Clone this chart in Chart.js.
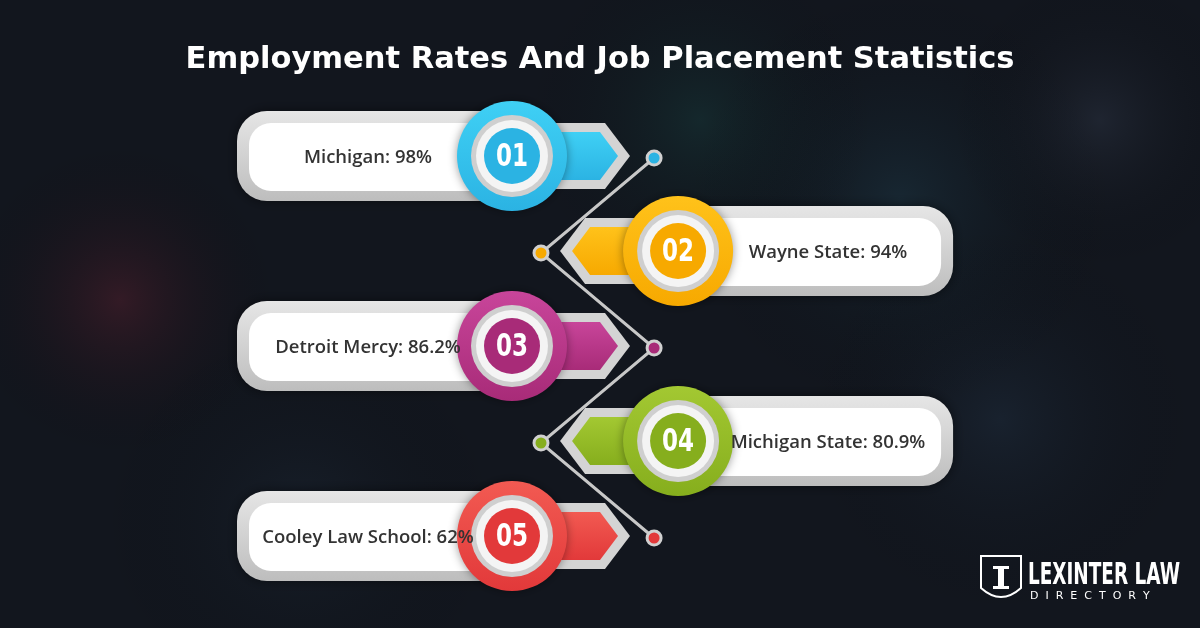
<!DOCTYPE html>
<html><head><meta charset="utf-8">
<script src="https://cdn.jsdelivr.net/npm/chart.js@4"></script>
<style>html,body{margin:0;padding:0;background:#12161e}#c{display:block}</style>
</head><body>
<canvas id="c" width="1200" height="628"></canvas>
<script>
const title = "Employment Rates And Job Placement Statistics";
const schools = ["Michigan", "Wayne State", "Detroit Mercy", "Michigan State", "Cooley Law School"];
const rates = ["98%", "94%", "86.2%", "80.9%", "62%"];
const ranks = ["01", "02", "03", "04", "05"];
const sides = [1, 0, 1, 0, 1]; // connector dot column
const colors = ["#2bb3e3", "#f7a900", "#a82b78", "#86ae1d", "#e2393a"];
const colorsLight = ["#3fd0f5", "#ffc21a", "#c8459a", "#a3c832", "#f25a52"];

function rr(ctx,x,y,w,h,r){ctx.beginPath();ctx.moveTo(x+r,y);ctx.arcTo(x+w,y,x+w,y+h,r);ctx.arcTo(x+w,y+h,x,y+h,r);ctx.arcTo(x,y+h,x,y,r);ctx.arcTo(x,y,x+w,y,r);ctx.closePath();}

const bg = {id:'bg', beforeDraw(chart){
  const c=chart.ctx;c.save();
  c.fillStyle="#12161e";c.fillRect(0,0,1200,628);
  const blobs=[[120,300,160,"rgba(150,40,60,0.25)"],[900,200,220,"rgba(40,90,110,0.25)"],[1100,120,150,"rgba(60,70,90,0.3)"],[700,120,180,"rgba(30,110,100,0.2)"],[300,520,200,"rgba(40,60,80,0.25)"],[1000,420,200,"rgba(50,80,110,0.2)"]];
  blobs.forEach(b=>{const g=c.createRadialGradient(b[0],b[1],0,b[0],b[1],b[2]);g.addColorStop(0,b[3]);g.addColorStop(1,"rgba(0,0,0,0)");c.fillStyle=g;c.fillRect(0,0,1200,628);});
  c.fillStyle="#fff";c.font="bold 30.5px 'DejaVu Sans', sans-serif";c.textAlign="center";c.textBaseline="middle";
  c.fillText(title,600,60);
  c.restore();
}};

const pills = {id:'pills', beforeDatasetsDraw(chart){
  const c=chart.ctx, xs=chart.scales.x, ys=chart.scales.y;
  const midX=(xs.getPixelForValue(0)+xs.getPixelForValue(1))/2;
  schools.forEach((s,i)=>{
    const cy=ys.getPixelForValue(i+1)-2;
    const mir = sides[i]===0;
    c.save();
    if(mir){c.translate(2*midX-5,0);c.scale(-1,1);}
    c.shadowColor="rgba(0,0,0,0.5)";c.shadowBlur=12;
    const og=c.createLinearGradient(0,cy-45,0,cy+45);og.addColorStop(0,"#e6e6e6");og.addColorStop(1,"#bdbdbd");
    c.fillStyle=og;rr(c,237,cy-45,311,90,30);c.fill();
    c.shadowBlur=0;
    c.fillStyle="#d4d4d4";c.beginPath();c.moveTo(510,cy-33);c.lineTo(605,cy-33);c.lineTo(630,cy);c.lineTo(605,cy+33);c.lineTo(510,cy+33);c.closePath();c.fill();
    const ag=c.createLinearGradient(0,cy-24,0,cy+24);ag.addColorStop(0,colorsLight[i]);ag.addColorStop(1,colors[i]);
    c.fillStyle=ag;c.beginPath();c.moveTo(510,cy-24);c.lineTo(600,cy-24);c.lineTo(618,cy);c.lineTo(600,cy+24);c.lineTo(510,cy+24);c.closePath();c.fill();
    c.fillStyle="#fff";rr(c,249,cy-33,295,68,22);c.fill();
    c.shadowColor="rgba(0,0,0,0.4)";c.shadowBlur=10;
    const cg=c.createLinearGradient(0,cy-55,0,cy+55);cg.addColorStop(0,colorsLight[i]);cg.addColorStop(1,colors[i]);
    c.fillStyle=cg;c.beginPath();c.arc(512,cy,55,0,Math.PI*2);c.fill();
    c.shadowBlur=0;
    c.fillStyle="#cfcfcf";c.beginPath();c.arc(512,cy,41,0,Math.PI*2);c.fill();
    c.fillStyle="#f4f4f4";c.beginPath();c.arc(512,cy,36,0,Math.PI*2);c.fill();
    c.fillStyle=colors[i];c.beginPath();c.arc(512,cy,28,0,Math.PI*2);c.fill();
    c.restore();
    const circX = mir? (2*midX-5-512):512;
    const textX = mir? 828:368;
    c.save();
    c.fillStyle="#fff";c.font="bold 32px 'DejaVu Sans', sans-serif";c.textAlign="center";c.textBaseline="middle";
    c.save();c.translate(circX,cy+2);c.scale(0.72,1);c.fillText(ranks[i],0,0);c.restore();
    c.fillStyle="#333";c.font="600 18.5px 'Open Sans', sans-serif";
    c.fillText(s+": "+rates[i],textX,cy+2);
    c.restore();
  });
  c.save();
  c.fillStyle="#fff";c.strokeStyle="#fff";c.lineWidth=2;
  c.beginPath();c.moveTo(981,556);c.lineTo(1021,556);c.lineTo(1021,588);c.quadraticCurveTo(1001,606,981,588);c.closePath();c.stroke();
  c.fillRect(993,566,16,3);c.fillRect(998,569,6,18);c.fillRect(993,586,16,3);
  c.textBaseline="alphabetic";c.textAlign="left";
  c.font="bold 30px 'DejaVu Sans', sans-serif";
  c.save();c.translate(1028,584);c.scale(152/c.measureText("LEXINTER LAW").width,1);c.fillText("LEXINTER LAW",0,0);c.restore();
  c.font="11px 'DejaVu Sans', sans-serif";c.fillText("D  I  R  E  C  T  O  R  Y",1030,599);
  c.restore();
}};

new Chart(document.getElementById('c'),{
  type:'line',
  data:{datasets:[{
    data: sides.map((s,i)=>({x:s,y:i+1})),
    borderColor:"#c8c8c8",borderWidth:3,
    pointRadius:7,pointBorderWidth:3,pointBorderColor:"#d0d0d0",
    pointBackgroundColor:colors,tension:0
  }]},
  options:{responsive:false,animation:false,
    layout:{padding:0},
    plugins:{legend:{display:false},tooltip:{enabled:false}},
    scales:{
      x:{type:'linear',display:false,min:-540/115,max:-540/115+1200/115},
      y:{type:'linear',display:false,reverse:true,min:1-148/95,max:1-148/95+608/95}
    }},
  plugins:[bg,pills]
});
</script>
</body></html>
